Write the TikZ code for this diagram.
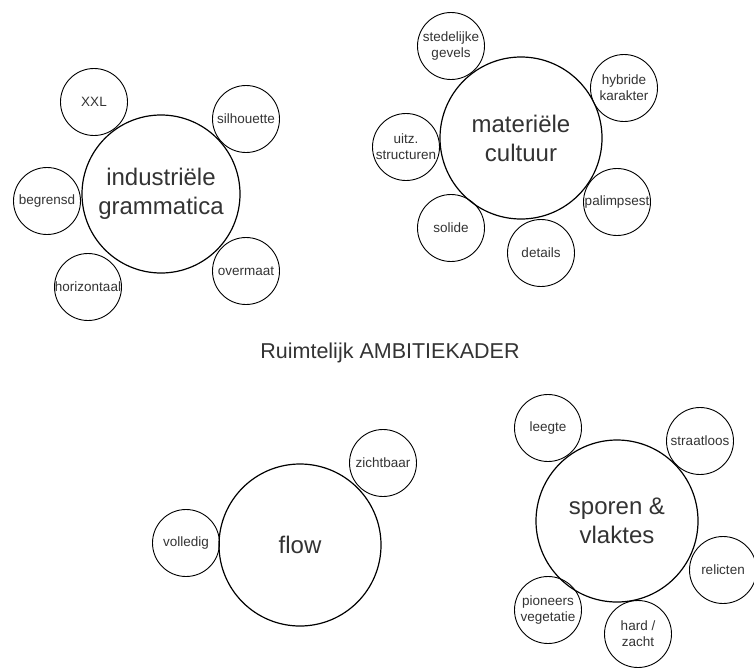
\documentclass[tikz,border=0pt]{standalone}
\usepackage{fontspec}
\setmainfont{Liberation Sans}
\definecolor{txt}{HTML}{333333}
\begin{document}
\begin{tikzpicture}[x=1pt,y=-1pt,
  big/.style={circle,draw=black,line width=1.2pt,minimum size=162pt,inner sep=0pt,
    text=txt,align=center,font=\fontsize{24}{29}\selectfont},
  small/.style={circle,draw=black,line width=0.9pt,minimum size=67pt,inner sep=0pt,
    text=txt,align=center,font=\fontsize{13.5}{16}\selectfont},
  titletext/.style={text=txt,font=\fontsize{21.5}{25}\selectfont,inner sep=0pt}]
\useasboundingbox (0,0) rectangle (754,667);
% industriele grammatica
\node[big,minimum size=158pt] (ig) at (161,194) {industriële\\grammatica};
\node[small] (xxl) at (94,102) {XXL};
\node[small] (sil) at (246,119) {silhouette};
\node[small] (beg) at (47,201) {begrensd};
\node[small] (hor) at (88,287) {horizontaal};
\node[small] (ove) at (246,271) {overmaat};
% materiele cultuur
\node[big] (mc) at (521,138) {materiële\\cultuur};
\node[small] (ste) at (451,46) {stedelijke\\gevels};
\node[small] (hyb) at (624,88) {hybride\\karakter};
\node[small] (uit) at (406,147) {uitz.\\structuren};
\node[small] (pal) at (617,202) {palimpsest};
\node[small] (sol) at (451,228) {solide};
\node[small] (det) at (541,253) {details};
% title
\node[titletext] (title) at (390,353) {Ruimtelijk AMBITIEKADER};
% flow
\node[big] (fl) at (300,545) {flow};
\node[small] (vol) at (186,543) {volledig};
\node[small] (zic) at (383,463) {zichtbaar};
% sporen & vlaktes
\node[big] (sv) at (617,521) {sporen \&\\vlaktes};
\node[small] (lee) at (548,428) {leegte};
\node[small] (str) at (700,441) {straatloos};
\node[small] (rel) at (723,570) {relicten};
\node[small] (pio) at (548,610) {pioneers\\vegetatie};
\node[small] (har) at (638,634) {hard /\\zacht};
\end{tikzpicture}
\end{document}
